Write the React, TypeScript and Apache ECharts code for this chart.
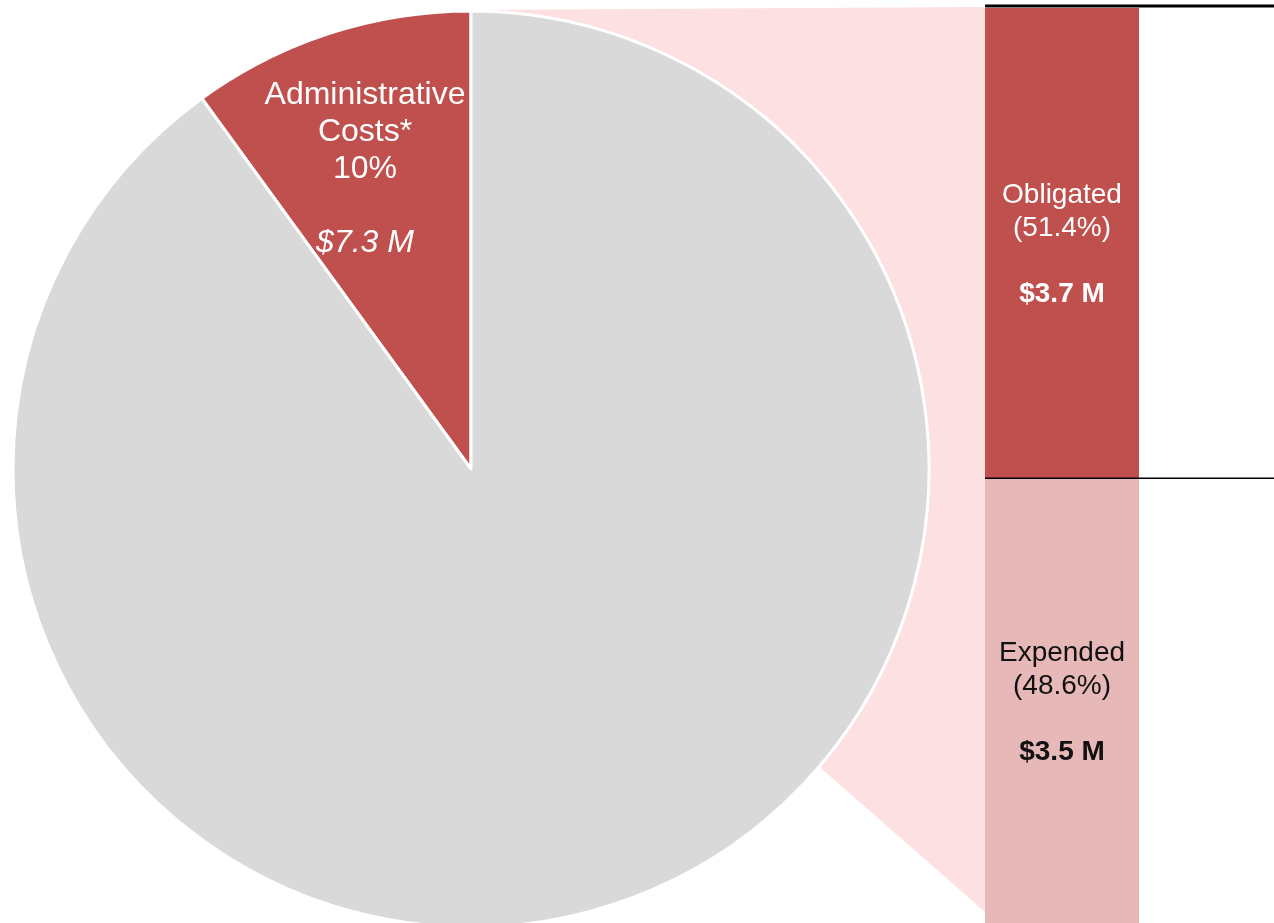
import React, { useEffect, useRef } from "react";
import * as echarts from "echarts";

const pieNames = ["Administrative Costs*", "Program Funds"];
const pieValues = [10, 90];
const adminAmountLabel = "$7.3 M";

const barCategory = ["Administrative Costs"];
const barNames = ["Obligated", "Expended"];
const barShares = [51.4, 48.6];
const barAmounts = [3.7, 3.5];

const RED = "#C0504D";
const GRAY = "#D9D9D9";
const LIGHT = "#E6B8B7";
const FAN = "#FDE0E1";
const FONT = "Liberation Sans, Arial, sans-serif";

export default function App() {
  const ref = useRef<HTMLDivElement>(null);
  useEffect(() => {
    if (!ref.current) return;
    const chart = echarts.init(ref.current, null, { renderer: "svg" });
    const total = pieValues.reduce((a, b) => a + b, 0);
    const option: any = {
      animation: false,
      textStyle: { fontFamily: FONT },
      grid: { left: 985, top: 8, width: 154, height: 915 },
      xAxis: { type: "category", data: barCategory, show: false },
      yAxis: { type: "value", inverse: true, min: 0, max: 100, show: false, splitLine: { show: false } },
      series: [
        {
          type: "pie",
          center: [471, 469],
          radius: 458,
          startAngle: 90,
          clockwise: false,
          z: 5,
          itemStyle: { borderColor: "#fff", borderWidth: 3 },
          labelLine: { show: false },
          emphasis: { disabled: true },
          data: pieNames.map((n, i) => ({
            name: n,
            value: pieValues[i],
            itemStyle: { color: i === 0 ? RED : GRAY },
            label: {
              show: i === 0,
              position: "inside",
              formatter: () => {
                const parts = n.split(" ");
                const pct = Math.round((pieValues[i] / total) * 100);
                return `{a|${parts[0]}}\n{a|${parts.slice(1).join(" ")}}\n{a|${pct}%}\n{g| }\n{i|${adminAmountLabel}}`;
              },
              rich: {
                a: { color: "#fff", fontSize: 32, lineHeight: 37, fontFamily: FONT },
                g: { color: "#fff", fontSize: 32, lineHeight: 37, fontFamily: FONT },
                i: { color: "#fff", fontSize: 32, lineHeight: 37, fontStyle: "italic", fontFamily: FONT },
              },
            },
          })),
          labelLayout: (p: any) =>
            p.dataIndex === 0 ? { x: 365, y: 167, align: "center", verticalAlign: "middle" } : {},
        },
        ...barNames.map((n, i) => ({
          type: "bar",
          name: n,
          stack: "funds",
          barWidth: "100%",
          z: 3,
          itemStyle: { color: i === 0 ? RED : LIGHT },
          label: {
            show: true,
            position: "inside",
            formatter: () =>
              `{t|${n}}\n{t|(${barShares[i].toFixed(1)}%)}\n{g| }\n{b|$${barAmounts[i].toFixed(1)} M}`,
            rich: {
              t: { color: i === 0 ? "#fff" : "#111", fontSize: 28, lineHeight: 33, fontFamily: FONT },
              g: { color: i === 0 ? "#fff" : "#111", fontSize: 28, lineHeight: 33, fontFamily: FONT },
              b: { color: i === 0 ? "#fff" : "#111", fontSize: 28, lineHeight: 33, fontWeight: "bold", fontFamily: FONT },
            },
          },
          emphasis: { disabled: true },
          data: [barShares[i]],
        })),
      ],
    };
    chart.setOption(option);
    const top = chart.convertToPixel({ gridIndex: 0 }, [0, 0]) as number[];
    const mid = chart.convertToPixel({ gridIndex: 0 }, [0, barShares[0]]) as number[];
    chart.setOption({
      graphic: [
        {
          type: "polygon",
          z: 0,
          shape: { points: [[471, 10], [985, top[1] - 1], [985, 912], [822, 769]] },
          style: { fill: FAN },
        },
        {
          type: "line",
          z: 100,
          shape: { x1: 985, y1: top[1] - 2, x2: 1274, y2: top[1] - 2 },
          style: { stroke: "#000", lineWidth: 3 },
        },
        {
          type: "line",
          z: 100,
          shape: { x1: 985, y1: mid[1], x2: 1274, y2: mid[1] },
          style: { stroke: "#000", lineWidth: 1.5 },
        },
      ],
    });
    return () => chart.dispose();
  }, []);
  return <div ref={ref} style={{ position: "fixed", left: 0, top: 0, width: 1274, height: 923 }} />;
}
